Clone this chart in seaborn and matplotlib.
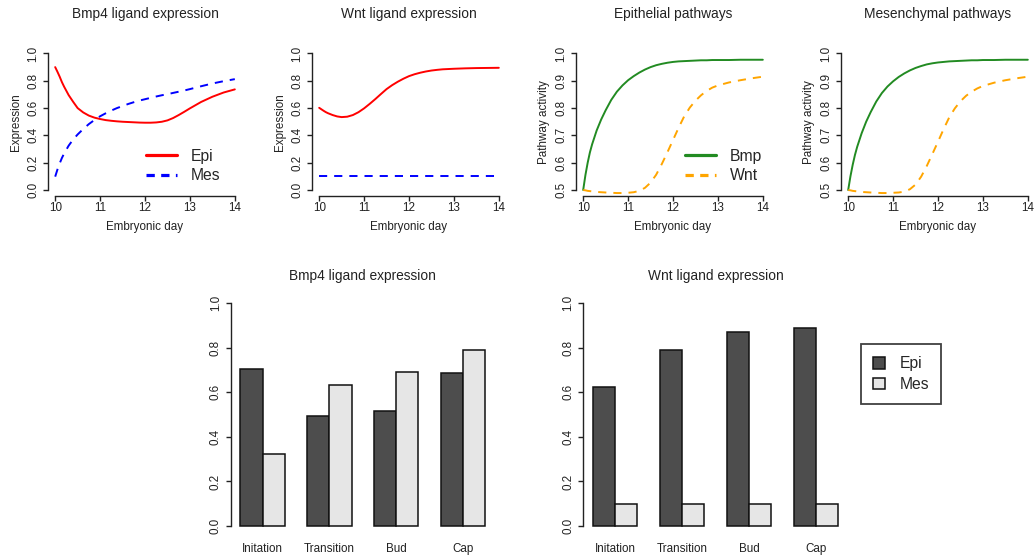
import matplotlib
matplotlib.use("Agg")
import matplotlib.pyplot as plt
import seaborn as sns
import pandas as pd
from matplotlib.lines import Line2D
from matplotlib.patches import Patch

# ---------------- data ----------------
days = [10.0, 10.05, 10.1, 10.15, 10.2, 10.3, 10.4, 10.5, 10.625, 10.75, 10.875,
        11.0, 11.125, 11.25, 11.375, 11.5, 11.625, 11.75, 11.875,
        12.0, 12.125, 12.25, 12.375, 12.5, 12.625, 12.75, 12.875,
        13.0, 13.25, 13.5, 13.75, 14.0]

bmp4_epi = [0.900, 0.866, 0.830, 0.790, 0.756, 0.695, 0.646, 0.600, 0.568, 0.545, 0.530,
            0.520, 0.512, 0.507, 0.503, 0.500, 0.498, 0.496, 0.494,
            0.493, 0.493, 0.495, 0.500, 0.510, 0.527, 0.549, 0.573,
            0.598, 0.645, 0.683, 0.714, 0.737]
bmp4_mes = [0.098, 0.150, 0.195, 0.235, 0.268, 0.325, 0.370, 0.407, 0.447, 0.483, 0.513,
            0.540, 0.562, 0.582, 0.600, 0.615, 0.630, 0.643, 0.655,
            0.665, 0.675, 0.685, 0.694, 0.702, 0.711, 0.720, 0.729,
            0.739, 0.760, 0.780, 0.797, 0.812]

wnt_epi = [0.602, 0.591, 0.580, 0.570, 0.562, 0.549, 0.539, 0.534, 0.537, 0.549, 0.570,
           0.598, 0.631, 0.666, 0.703, 0.739, 0.768, 0.793, 0.815,
           0.834, 0.848, 0.859, 0.868, 0.875, 0.880, 0.884, 0.886,
           0.888, 0.891, 0.893, 0.894, 0.895]
wnt_mes = [0.1] * 32

epi_bmp = [0.500, 0.555, 0.600, 0.638, 0.668, 0.718, 0.758, 0.792, 0.830, 0.860, 0.883,
           0.902, 0.917, 0.930, 0.941, 0.950, 0.957, 0.962, 0.966,
           0.969, 0.971, 0.972, 0.973, 0.974, 0.975, 0.975, 0.976,
           0.976, 0.976, 0.977, 0.977, 0.977]
epi_wnt = [0.500, 0.499, 0.497, 0.496, 0.495, 0.493, 0.492, 0.491, 0.490, 0.489, 0.489,
           0.490, 0.492, 0.497, 0.508, 0.527, 0.556, 0.595, 0.638,
           0.683, 0.728, 0.770, 0.802, 0.827, 0.847, 0.863, 0.875,
           0.883, 0.894, 0.902, 0.909, 0.915]

mes_bmp = [0.500, 0.550, 0.592, 0.628, 0.658, 0.708, 0.750, 0.785, 0.824, 0.855, 0.879,
           0.898, 0.914, 0.927, 0.938, 0.947, 0.954, 0.960, 0.964,
           0.967, 0.969, 0.971, 0.972, 0.973, 0.974, 0.975, 0.975,
           0.976, 0.976, 0.977, 0.977, 0.977]
mes_wnt = [0.500, 0.499, 0.497, 0.496, 0.495, 0.493, 0.492, 0.491, 0.490, 0.489, 0.489,
           0.490, 0.491, 0.494, 0.503, 0.520, 0.549, 0.588, 0.632,
           0.677, 0.723, 0.766, 0.799, 0.825, 0.845, 0.860, 0.872,
           0.881, 0.893, 0.902, 0.909, 0.915]

stages = ["Initation", "Transition", "Bud", "Cap"]
bar_bmp4_epi = [0.705, 0.494, 0.518, 0.687]
bar_bmp4_mes = [0.322, 0.633, 0.693, 0.790]
bar_wnt_epi = [0.623, 0.790, 0.870, 0.891]
bar_wnt_mes = [0.1, 0.1, 0.1, 0.1]

# ---------------- style ----------------
sns.set_theme(style="ticks")
plt.rcParams["font.family"] = ["Liberation Sans", "DejaVu Sans"]
plt.rcParams["axes.linewidth"] = 1.0
plt.rcParams["xtick.major.width"] = 1.0
plt.rcParams["ytick.major.width"] = 1.0
plt.rcParams["xtick.color"] = "#222222"
plt.rcParams["ytick.color"] = "#222222"
plt.rcParams["axes.edgecolor"] = "#222222"

W, H = 1034, 558
fig = plt.figure(figsize=(W / 100, H / 100), dpi=100)
fig.patch.set_facecolor("white")


def px_axes(l, r, t, b):
    return fig.add_axes([l / W, 1 - b / H, (r - l) / W, (b - t) / H])


TICK_FS = 8.4
LAB_FS = 8.4
TITLE_FS = 9.9
LEG_FS = 11.3
LW = 1.4
DASH = (0, (4.2, 3.6))

RED, BLUE, GREEN, ORANGE = "#FF0000", "#0000FF", "#228B22", "#FFA500"


def style_line_axes(ax, ylo, yhi, yticks, ylabel, title):
    rng = yhi - ylo
    ax.set_xlim(10 - 0.16, 14 + 0.16)
    ax.set_ylim(ylo - 0.04 * rng, yhi + 0.04 * rng)
    ax.set_xticks([10, 11, 12, 13, 14])
    ax.set_xticklabels(["10", "11", "12", "13", "14"])
    ax.set_yticks(yticks)
    ax.set_yticklabels([f"{v:.1f}" for v in yticks], rotation=90, va="center")
    ax.spines["top"].set_visible(False)
    ax.spines["right"].set_visible(False)
    ax.spines["bottom"].set_bounds(10, 14)
    ax.spines["left"].set_bounds(ylo, yhi)
    ax.tick_params(axis="both", length=3.3, labelsize=TICK_FS)
    ax.tick_params(axis="x", pad=1.5)
    ax.tick_params(axis="y", pad=3.0)
    ax.set_xlabel("Embryonic day", fontsize=LAB_FS, color="#222222")
    ax.set_ylabel(ylabel, fontsize=LAB_FS, color="#222222")
    ax.xaxis.set_label_coords(0.5, -0.17)
    ax.yaxis.set_label_coords(-0.134, 0.5)
    ax.set_title(title, fontsize=TITLE_FS, pad=21.5, color="#222222")
    ax.grid(False)


top_left = [48, 312, 576, 841]
panels = [
    (bmp4_epi, bmp4_mes, RED, BLUE, "Expression", "Bmp4 ligand expression", 0.0, 1.0,
     [0.0, 0.2, 0.4, 0.6, 0.8, 1.0], ("Epi", "Mes")),
    (wnt_epi, wnt_mes, RED, BLUE, "Expression", "Wnt ligand expression", 0.0, 1.0,
     [0.0, 0.2, 0.4, 0.6, 0.8, 1.0], None),
    (epi_bmp, epi_wnt, GREEN, ORANGE, "Pathway activity", "Epithelial pathways", 0.5, 1.0,
     [0.5, 0.6, 0.7, 0.8, 0.9, 1.0], ("Bmp", "Wnt")),
    (mes_bmp, mes_wnt, GREEN, ORANGE, "Pathway activity", "Mesenchymal pathways", 0.5, 1.0,
     [0.5, 0.6, 0.7, 0.8, 0.9, 1.0], None),
]

for left, (s1, s2, c1, c2, ylab, title, ylo, yhi, yt, leg) in zip(top_left, panels):
    ax = px_axes(left, left + 194, 48, 195.5)
    sns.lineplot(x=days, y=s1, ax=ax, color=c1, linewidth=LW, errorbar=None, sort=False)
    sns.lineplot(x=days, y=s2, ax=ax, color=c2, linewidth=LW, errorbar=None, sort=False,
                 linestyle=DASH)
    style_line_axes(ax, ylo, yhi, yt, ylab, title)
    if leg is not None:
        handles = [Line2D([], [], color=c1, lw=2.3),
                   Line2D([], [], color=c2, lw=2.3, linestyle=(0, (2.6, 2.0)))]
        lx = left + 98 if left == 48 else left + 109
        ax.legend(handles, list(leg), loc="upper left",
                  bbox_to_anchor=(lx / W, 1 - 148.5 / H),
                  bbox_transform=fig.transFigure, frameon=False,
                  fontsize=LEG_FS, handlelength=1.95, handletextpad=0.9,
                  labelspacing=0.3, borderpad=0, borderaxespad=0)

# ---------------- bar charts ----------------
EPI_C, MES_C = "#4D4D4D", "#E6E6E6"


def bar_panel(left, right, epi, mes, title):
    ax = px_axes(left, right, 294.4, 534.9)
    df = pd.DataFrame({
        "stage": stages * 2,
        "tissue": ["Epi"] * 4 + ["Mes"] * 4,
        "value": list(epi) + list(mes),
    })
    sns.barplot(data=df, x="stage", y="value", hue="tissue", ax=ax,
                palette=[EPI_C, MES_C], saturation=1, width=2 / 3,
                edgecolor="#111111", linewidth=1.1, errorbar=None, legend=False,
                order=stages, hue_order=["Epi", "Mes"])
    ax.set_xlim(-0.48, 3.48)
    ax.set_ylim(-0.04, 1.04)
    ax.set_yticks([0.0, 0.2, 0.4, 0.6, 0.8, 1.0])
    ax.set_yticklabels(["0.0", "0.2", "0.4", "0.6", "0.8", "1.0"], rotation=90, va="center")
    ax.spines["top"].set_visible(False)
    ax.spines["right"].set_visible(False)
    ax.spines["bottom"].set_visible(False)
    ax.spines["left"].set_bounds(0, 1)
    ax.tick_params(axis="y", length=3.3, labelsize=TICK_FS, pad=3.0)
    ax.tick_params(axis="x", length=0, labelsize=TICK_FS, pad=6)
    ax.set_xlabel("")
    ax.set_ylabel("")
    ax.set_title(title, fontsize=TITLE_FS, pad=10.5, color="#222222")
    ax.grid(False)
    return ax


bar_panel(230.5, 494.8, bar_bmp4_epi, bar_bmp4_mes, "Bmp4 ligand expression")
bar_panel(582.8, 848.0, bar_wnt_epi, bar_wnt_mes, "Wnt ligand expression")

leg_handles = [Patch(facecolor=EPI_C, edgecolor="#111111", linewidth=1.1),
               Patch(facecolor=MES_C, edgecolor="#111111", linewidth=1.1)]
lg = fig.legend(leg_handles, ["Epi", "Mes"], loc="upper left",
                bbox_to_anchor=(860.7 / W, 1 - 344 / H), bbox_transform=fig.transFigure,
                fontsize=LEG_FS, frameon=True, fancybox=False, edgecolor="#111111",
                handlelength=0.75, handleheight=0.75, handletextpad=0.95,
                labelspacing=0.36, borderpad=0.78, borderaxespad=0)
lg.get_frame().set_linewidth(1.3)

fig.savefig("out.png", dpi=100, facecolor="white")
